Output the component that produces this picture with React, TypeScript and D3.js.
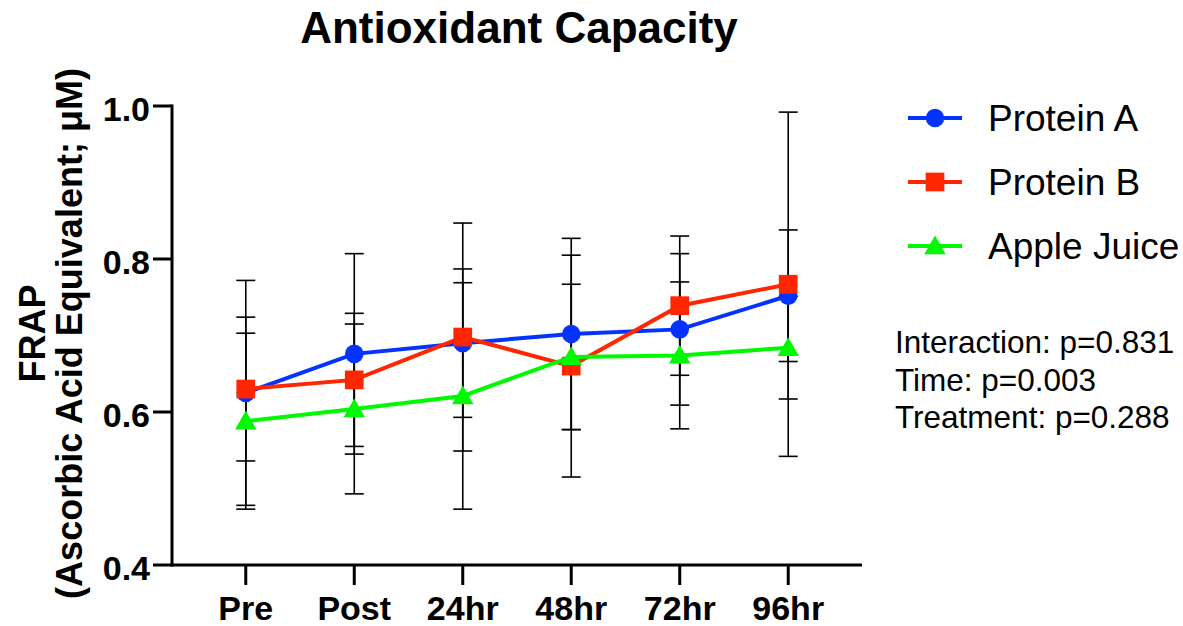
import React from 'react';
import { scaleLinear, scalePoint, line, symbol, symbolCircle, symbolSquare, symbolTriangle } from 'd3';

// values
const categories = ['Pre', 'Post', '24hr', '48hr', '72hr', '96hr'];
const proteinA = [0.625, 0.676, 0.690, 0.702, 0.708, 0.752];
const proteinAErr = [0.147, 0.131, 0.097, 0.125, 0.099, 0.086];
const proteinB = [0.630, 0.642, 0.698, 0.660, 0.739, 0.767];
const proteinBErr = [0.094, 0.087, 0.149, 0.145, 0.091, 0.225];
const appleJuice = [0.588, 0.604, 0.621, 0.672, 0.674, 0.684];
const appleJuiceErr = [0.115, 0.111, 0.148, 0.095, 0.096, 0.067];
const yTicks = [0.4, 0.6, 0.8, 1.0];
const statLines = ['Interaction: p=0.831', 'Time: p=0.003', 'Treatment: p=0.288'];

const series = [
  { name: 'Protein A', values: proteinA, err: proteinAErr, color: '#0433FF', shape: symbolCircle, size: 270 },
  { name: 'Protein B', values: proteinB, err: proteinBErr, color: '#FF2600', shape: symbolSquare, size: 350 },
  { name: 'Apple Juice', values: appleJuice, err: appleJuiceErr, color: '#00F900', shape: symbolTriangle, size: 200 },
];

const font = '"Liberation Sans", Arial, Helvetica, sans-serif';

function App() {
  const width = 1183;
  const height = 626;
  const left = 172, right = 862, top = 106, bottom = 565;

  const x = scalePoint<string>().domain(categories).range([left, right]).padding(0.68);
  const y = scaleLinear().domain([0.4, 1.0]).range([bottom, top]);

  const path = line<number>()
    .x((d, i) => x(categories[i]) as number)
    .y((d) => y(d));

  const capW = 19;

  // triangle symbol is centred on its centroid; shift so the bbox centre sits on the point
  const markerOffset = (shape: any) => (shape === symbolTriangle ? 2 : 0);

  return (
    <svg width={width} height={height} style={{ position: 'absolute', left: 0, top: 0, background: '#fff' }}
      fontFamily={font}>
      <text x={519} y={43} textAnchor="middle" fontSize={44} fontWeight="bold">
        Antioxidant Capacity
      </text>

      {/* y axis title */}
      <g transform={`translate(0, ${(top + bottom) / 2 - 2}) rotate(-90)`} fontWeight="bold" fontSize={36} textAnchor="middle">
        <text x={0} y={45}>FRAP</text>
        <text x={0} y={82}>(Ascorbic Acid Equivalent; μM)</text>
      </g>

      {/* error bars */}
      {series.map((s) => (
        <g key={s.name + '-err'} stroke="#000" strokeWidth={1.6}>
          {s.values.map((v, i) => {
            const cx = x(categories[i]) as number;
            const hi = y(v + s.err[i]);
            const lo = y(v - s.err[i]);
            return (
              <g key={i}>
                <line x1={cx} x2={cx} y1={hi} y2={lo} />
                <line x1={cx - capW / 2} x2={cx + capW / 2} y1={hi} y2={hi} />
                <line x1={cx - capW / 2} x2={cx + capW / 2} y1={lo} y2={lo} />
              </g>
            );
          })}
        </g>
      ))}

      {/* series lines and markers */}
      {series.map((s) => (
        <g key={s.name}>
          <path d={path(s.values) || ''} fill="none" stroke={s.color} strokeWidth={4} />
          {s.values.map((v, i) => (
            <path key={i}
              transform={`translate(${x(categories[i])}, ${y(v) + markerOffset(s.shape)})`}
              d={symbol().type(s.shape).size(s.size)() || ''}
              fill={s.color} />
          ))}
        </g>
      ))}

      {/* axes */}
      <g stroke="#000" strokeWidth={3} fill="none">
        <line x1={left} x2={left} y1={top - 1.5} y2={bottom + 1.5} />
        <line x1={left - 1.5} x2={right} y1={bottom} y2={bottom} />
        {yTicks.map((t) => (
          <line key={t} x1={left - 19} x2={left} y1={y(t)} y2={y(t)} />
        ))}
        {categories.map((c) => (
          <line key={c} x1={x(c)} x2={x(c)} y1={bottom} y2={bottom + 20} />
        ))}
      </g>
      <g fontWeight="bold" fontSize={34}>
        {yTicks.map((t) => (
          <text key={t} x={left - 22} y={y(t) + 15} textAnchor="end">{t.toFixed(1)}</text>
        ))}
        {categories.map((c) => (
          <text key={c} x={x(c)} y={620} textAnchor="middle">{c}</text>
        ))}
      </g>

      {/* legend */}
      {series.map((s, i) => {
        const ly = 118 + i * 64;
        return (
          <g key={s.name + '-legend'}>
            <line x1={908} x2={962} y1={ly} y2={ly} stroke={s.color} strokeWidth={4} />
            <path transform={`translate(935, ${ly + markerOffset(s.shape)})`}
              d={symbol().type(s.shape).size(s.size)() || ''} fill={s.color} />
            <text x={988} y={ly + 13} fontSize={37}>{s.name}</text>
          </g>
        );
      })}

      {/* statistics */}
      <g fontSize={31.5}>
        {statLines.map((t, i) => (
          <text key={t} x={895} y={353 + i * 37.5}>{t}</text>
        ))}
      </g>
    </svg>
  );
}

export default App;
